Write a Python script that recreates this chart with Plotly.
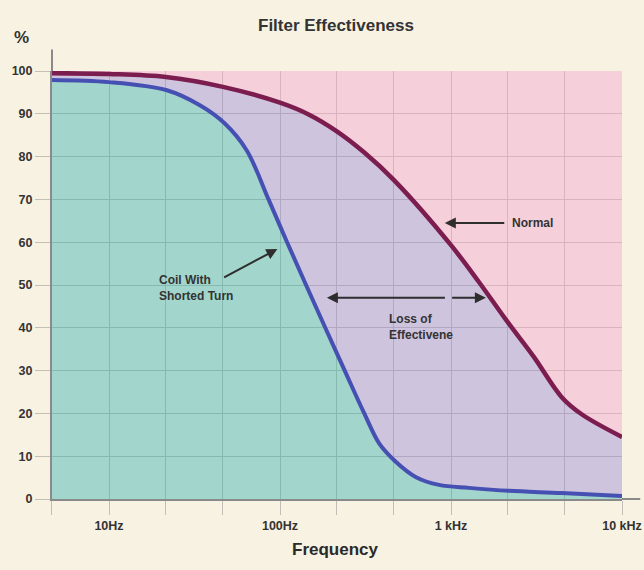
import math
import plotly.graph_objects as go

# ---------------- data ----------------
freq_normal = [4.64, 10, 21.5, 46.4, 100, 148, 215, 310, 464, 1000,
               1456, 2120, 3050, 4440, 5810, 10000]
pct_normal = [99.5, 99.3, 98.6, 96.3, 92.6, 89.8, 85.9, 81.0, 74.5, 59.3,
              50.7, 41.6, 33.2, 23.8, 19.8, 14.5]

freq_coil = [4.64, 10, 21.8, 34, 47.4, 63.8, 85.7, 110, 142, 184, 239, 311,
             380, 470, 625, 851, 1274, 2178, 4436, 10000]
pct_coil = [97.9, 97.4, 95.5, 92.0, 87.8, 81.5, 70.0, 60.0, 50.0, 40.0, 30.0, 20.0,
            13.0, 8.9, 5.1, 3.3, 2.6, 1.9, 1.4, 0.7]

grid_freqs = [4.64, 10, 21.5, 46.4, 100, 215, 464, 1000, 2150, 4640, 10000]
x_label_freqs = [10, 100, 1000, 10000]
x_labels = ["10Hz", "100Hz", "1 kHz", "10 kHz"]
y_ticks = [0, 10, 20, 30, 40, 50, 60, 70, 80, 90, 100]

# ---------------- styling ----------------
CREAM = "#f8f2e2"
TEAL = (162, 213, 203)
LAVENDER = (206, 196, 222)
PINK = (245, 207, 218)
MAROON = "#7c1d4f"
BLUE = "#4650b2"
TEXT = "#333333"
ALPHA = 0.8
FONT = "Liberation Sans, Arial, sans-serif"


def veil(rgb, alpha=ALPHA, base=255):
    c = [max(0, min(255, round((v - (1 - alpha) * base) / alpha))) for v in rgb]
    return "rgba(%d,%d,%d,%.2f)" % (c[0], c[1], c[2], alpha)


SMOOTH = 1.0
fig = go.Figure()

# filled regions (no outline)
fig.add_trace(go.Scatter(x=freq_coil, y=pct_coil, mode="lines", fill="tozeroy",
                         fillcolor=veil(TEAL), line=dict(width=0, shape="spline", smoothing=SMOOTH),
                         hoverinfo="skip"))
fig.add_trace(go.Scatter(x=freq_normal, y=pct_normal, mode="lines", fill="tonexty",
                         fillcolor=veil(LAVENDER), line=dict(width=0, shape="spline", smoothing=SMOOTH),
                         hoverinfo="skip"))
fig.add_trace(go.Scatter(x=[freq_normal[0], freq_normal[-1]], y=[100, 100], mode="lines",
                         fill="tonexty", fillcolor=veil(PINK), line=dict(width=0),
                         hoverinfo="skip"))

# curves
fig.add_trace(go.Scatter(x=freq_coil, y=pct_coil, mode="lines", name="Coil With Shorted Turn",
                         line=dict(color=BLUE, width=4, shape="spline", smoothing=SMOOTH)))
fig.add_trace(go.Scatter(x=freq_normal, y=pct_normal, mode="lines", name="Normal",
                         line=dict(color=MAROON, width=4.5, shape="spline", smoothing=SMOOTH)))

lg = math.log10
ann_font = dict(family=FONT, size=12, color=TEXT, weight="bold")
arrow = dict(showarrow=True, arrowhead=2, arrowsize=1.1, arrowwidth=2, arrowcolor="#2e2e2e",
             axref="x", ayref="y", xref="x", yref="y", text="")

annotations = [
    # Normal
    dict(x=lg(920), y=64.5, ax=lg(2090), ay=64.5, **arrow),
    dict(x=lg(2208), y=64.5, text="Normal", showarrow=False, xanchor="left", yanchor="middle",
         xref="x", yref="y", font=ann_font),
    # Loss of effectiveness (double arrow in two halves)
    dict(x=lg(188), y=47.0, ax=lg(940), ay=47.0, **arrow),
    dict(x=lg(1600), y=47.0, ax=lg(995), ay=47.0, **arrow),
    dict(x=lg(424), y=40.2, text="Loss of<br>Effectivene", showarrow=False,
         xanchor="left", yanchor="middle", align="left", xref="x", yref="y", font=ann_font),
    # Coil with shorted turn
    dict(x=lg(96.5), y=58.4, ax=lg(46.2), ay=51.6, **arrow),
    dict(x=lg(19.1), y=49.2, text="Coil With<br>Shorted Turn", showarrow=False,
         xanchor="left", yanchor="middle", align="left", xref="x", yref="y", font=ann_font),
    # titles
    dict(x=0.498, y=1.107, xref="paper", yref="paper", text="Filter Effectiveness",
         xanchor="center", yanchor="middle", showarrow=False,
         font=dict(family=FONT, size=17, color=TEXT, weight="bold")),
    dict(x=-0.053, y=1.079, xref="paper", yref="paper", text="%",
         xanchor="center", yanchor="middle", showarrow=False,
         font=dict(family=FONT, size=17, color=TEXT, weight="bold")),
    dict(x=0.498, y=-0.119, xref="paper", yref="paper", text="Frequency",
         xanchor="center", yanchor="middle", showarrow=False,
         font=dict(family=FONT, size=17, color="#2a2a2a", weight="bold")),
]

shapes = [
    # y axis continues above the 100 line
    dict(type="line", xref="paper", yref="paper", x0=0, x1=0, y0=1, y1=1.05,
         line=dict(color="#8a8a8a", width=2)),
    # x axis continues past 10 kHz
    dict(type="line", xref="paper", yref="paper", x0=1, x1=1.032, y0=0, y1=0,
         line=dict(color="#8a8a8a", width=2)),
]

tick_font = dict(family=FONT, size=12.5, color=TEXT, weight="bold")

fig.update_layout(
    width=644, height=570, autosize=False,
    margin=dict(l=52, r=22, t=71, b=71, autoexpand=False),
    paper_bgcolor=CREAM, plot_bgcolor="white",
    showlegend=False,
    annotations=annotations, shapes=shapes,
    xaxis=dict(type="log", range=[2 / 3, 4], automargin=False,
               tickmode="array", tickvals=grid_freqs,
               ticktext=[x_labels[x_label_freqs.index(f)] if f in x_label_freqs else "" for f in grid_freqs],
               showgrid=True, gridcolor="rgb(115,115,115)", gridwidth=1,
               ticks="outside", ticklen=14, tickcolor="rgba(140,140,140,0.5)", tickwidth=1,
               showline=True, linecolor="#8a8a8a", linewidth=2, zeroline=False,
               tickfont=tick_font),
    yaxis=dict(range=[0, 100], automargin=False, tickmode="array", tickvals=y_ticks,
               showgrid=True, gridcolor="rgb(115,115,115)", gridwidth=1,
               ticks="outside", ticklen=15, tickcolor="rgba(140,140,140,0.5)", tickwidth=1,
               showline=True, linecolor="#8a8a8a", linewidth=2, zeroline=False,
               tickfont=tick_font),
)

fig.write_html("out.html", config={"displayModeBar": False},
               post_script="document.body.style.margin='0';document.body.style.overflow='hidden';")
